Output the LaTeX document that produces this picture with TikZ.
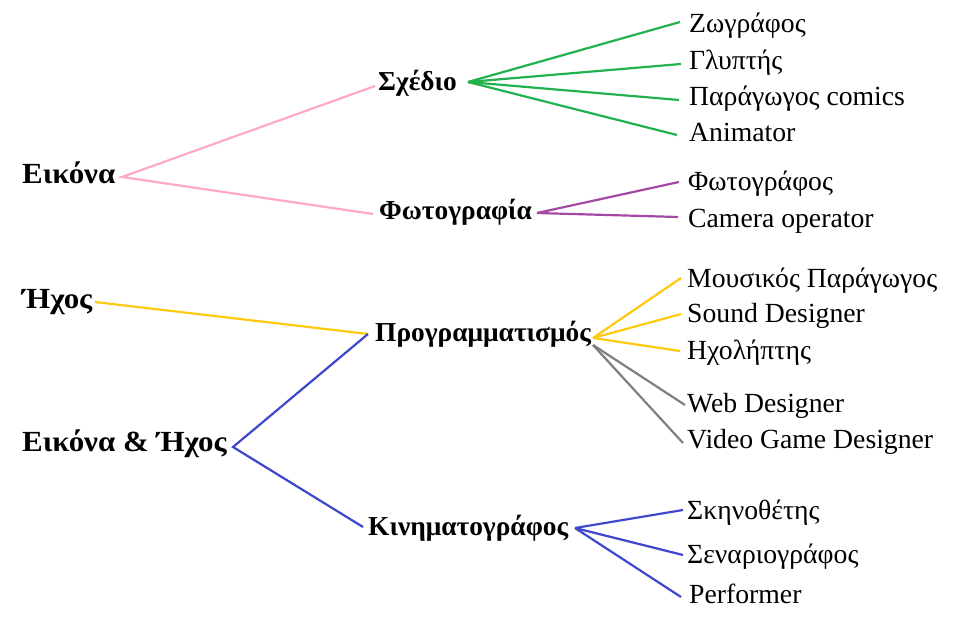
\documentclass[tikz,border=0pt]{standalone}
\usepackage{fontspec}
\setmainfont{Liberation Serif}
\newfontfamily\rootfont[FakeStretch=1.06]{Liberation Serif}
\definecolor{cpink}{RGB}{255,168,200}
\definecolor{cgreen}{RGB}{34,177,76}
\definecolor{cpurple}{RGB}{163,73,164}
\definecolor{cyellow}{RGB}{255,201,14}
\definecolor{cblue}{RGB}{63,72,204}
\definecolor{cgray}{RGB}{127,127,127}
\tikzset{
  leaf/.style={anchor=base west, inner sep=0pt, font=\fontsize{27.7}{30}\selectfont},
  mid/.style={anchor=base west, inner sep=0pt, font=\fontsize{27.4}{30}\selectfont\bfseries},
  root/.style={anchor=base west, inner sep=0pt, font=\rootfont\fontsize{29.2}{32}\selectfont\bfseries},
  conn/.style={line width=2.2pt}
}
\begin{document}
\begin{tikzpicture}[x=1pt,y=-1pt]
\useasboundingbox (0,0) rectangle (957,620);
% roots
\node[root] (eikona) at (22,184) {Εικόνα};
\node[root] (ixos) at (22,308) {Ήχος};
\node[root] (eikix) at (22,451) {Εικόνα \& Ήχος};
% middle
\node[mid] (sxedio) at (378,91) {Σχέδιο};
\node[mid] (foto) at (379,220) {Φωτογραφία};
\node[mid] (prog) at (375,341) {Προγραμματισμός};
\node[mid] (kin) at (368,535) {Κινηματογράφος};
% leaves
\node[leaf] (zog) at (689,33) {Ζωγράφος};
\node[leaf] (glyp) at (689,70) {Γλυπτής};
\node[leaf] (parcom) at (689,106) {Παράγωγος comics};
\node[leaf] (anim) at (689,142) {Animator};
\node[leaf] (fotog) at (688,191) {Φωτογράφος};
\node[leaf] (camop) at (688,227) {Camera operator};
\node[leaf] (mous) at (687,287) {Μουσικός Παράγωγος};
\node[leaf] (sound) at (687,322) {Sound Designer};
\node[leaf] (ixol) at (687,359) {Ηχολήπτης};
\node[leaf] (web) at (687,412) {Web Designer};
\node[leaf] (vgd) at (687,448) {Video Game Designer};
\node[leaf] (skin) at (687,519) {Σκηνοθέτης};
\node[leaf] (sen) at (687,563) {Σεναριογράφος};
\node[leaf] (perf) at (689,603) {Performer};
% connector end points
\coordinate (eikona-o) at (122,177);
\coordinate (sxedio-i) at (375,86);
\coordinate (foto-i) at (373,214);
\coordinate (sxedio-o) at (468,82);
\coordinate (zog-i) at (680,22);
\coordinate (glyp-i) at (681,64);
\coordinate (parcom-i) at (679,100);
\coordinate (anim-i) at (677,135);
\coordinate (foto-o) at (537,213);
\coordinate (fotog-i) at (679,182);
\coordinate (camop-i) at (678,217);
\coordinate (ixos-o) at (95,302);
\coordinate (prog-i) at (368,334);
\coordinate (eikix-o) at (233,447);
\coordinate (kin-i) at (363,527);
\coordinate (prog-o) at (593,338);
\coordinate (prog-o2) at (593,345);
\coordinate (mous-i) at (681,278);
\coordinate (sound-i) at (681,314);
\coordinate (ixol-i) at (680,351);
\coordinate (web-i) at (685,405);
\coordinate (vgd-i) at (683,443);
\coordinate (kin-o) at (575,528);
\coordinate (skin-i) at (683,510);
\coordinate (sen-i) at (683,555);
\coordinate (perf-i) at (681,597);
% connectors
\draw[conn,cpink] (sxedio-i) -- (eikona-o) -- (foto-i);
\draw[conn,cgreen] (sxedio-o) -- (zog-i);
\draw[conn,cgreen] (sxedio-o) -- (glyp-i);
\draw[conn,cgreen] (sxedio-o) -- (parcom-i);
\draw[conn,cgreen] (sxedio-o) -- (anim-i);
\draw[conn,cpurple] (foto-o) -- (fotog-i);
\draw[conn,cpurple] (foto-o) -- (camop-i);
\draw[conn,cyellow] (ixos-o) -- (prog-i);
\draw[conn,cblue] (prog-i) -- (eikix-o) -- (kin-i);
\draw[conn,cyellow] (prog-o) -- (mous-i);
\draw[conn,cyellow] (prog-o) -- (sound-i);
\draw[conn,cyellow] (prog-o) -- (ixol-i);
\draw[conn,cgray] (prog-o2) -- (web-i);
\draw[conn,cgray] (prog-o2) -- (vgd-i);
\draw[conn,cblue] (kin-o) -- (skin-i);
\draw[conn,cblue] (kin-o) -- (sen-i);
\draw[conn,cblue] (kin-o) -- (perf-i);
\end{tikzpicture}
\end{document}
